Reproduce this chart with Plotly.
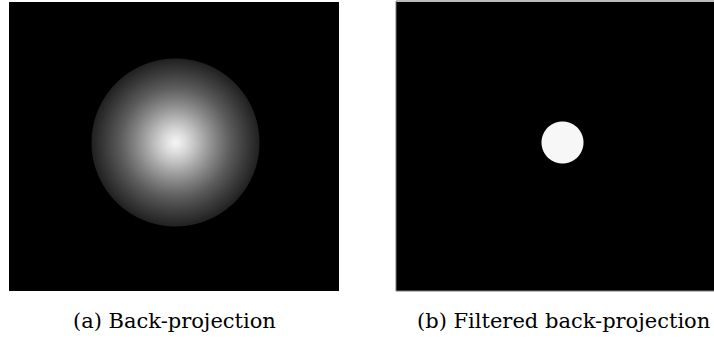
import numpy as np
import plotly.graph_objects as go

# Figure geometry (pixels)
W, H = 714, 339

# (a) back-projection: radial brightness profile (radius in px -> grey level 0-255)
bp_radius = [0, 10, 20, 30, 42, 55, 70, 84]
bp_level = [245, 222, 193, 162, 127, 92, 60, 32]
RECON_R = 84.0

# (b) filtered back-projection: recovered disk
DISK_R = 21.0
DISK_LEVEL = 247

CENTER = (166.0, 140.0)          # (column, row) of the object centre inside each panel

captions = ["(a) Back-projection", "(b) Filtered back-projection"]
caption_x = [174.5, 563.0]

# Panel boxes in page pixels: (left, top, right, bottom)
panel_a = (9, 2, 339, 291)
panel_b = (396, 2, 714, 291)


def grid(panel):
    w = panel[2] - panel[0]
    h = panel[3] - panel[1]
    cols = np.arange(w)
    rows = np.arange(h)
    cc, rr = np.meshgrid(cols, rows)
    return cols, rows, np.hypot(cc - CENTER[0], rr - CENTER[1])


# (a) shaded disk, black outside the reconstruction circle
cols_a, rows_a, r_a = grid(panel_a)
shade = np.interp(r_a, bp_radius, bp_level)
edge = np.clip(RECON_R + 0.5 - r_a, 0.0, 1.0)
z_a = shade * edge

# (b) uniform disk with an anti-aliased rim
cols_b, rows_b, r_b = grid(panel_b)
z_b = DISK_LEVEL * np.clip(DISK_R + 0.5 - r_b, 0.0, 1.0)

gray = [[0.0, "rgb(0,0,0)"], [1.0, "rgb(255,255,255)"]]

fig = go.Figure()
fig.add_trace(go.Heatmap(z=z_a, x=cols_a, y=rows_a, colorscale=gray, zmin=0, zmax=255,
                         showscale=False, hoverinfo="skip", xaxis="x", yaxis="y"))
fig.add_trace(go.Heatmap(z=z_b, x=cols_b, y=rows_b, colorscale=gray, zmin=0, zmax=255,
                         showscale=False, hoverinfo="skip", xaxis="x2", yaxis="y2"))


def dom_x(p):
    return [p[0] / W, min(p[2] / W, 1.0)]


def dom_y(p):
    return [(H - p[3]) / H, (H - p[1]) / H]


axis_common = dict(showgrid=False, zeroline=False, showticklabels=False, ticks="",
                   showline=False, fixedrange=True)

fig.update_layout(
    width=W, height=H,
    margin=dict(l=0, r=0, t=0, b=0),
    paper_bgcolor="white", plot_bgcolor="black",
    xaxis=dict(domain=dom_x(panel_a), range=[-0.5, len(cols_a) - 0.5], **axis_common),
    yaxis=dict(domain=dom_y(panel_a), range=[len(rows_a) - 0.5, -0.5], **axis_common),
    xaxis2=dict(domain=dom_x(panel_b), range=[-0.5, len(cols_b) - 0.5], anchor="y2",
                **axis_common),
    yaxis2=dict(domain=dom_y(panel_b), range=[len(rows_b) - 0.5, -0.5], anchor="x2",
                **axis_common),
    showlegend=False,
)

# thin grey frame around panel (b)
fig.add_shape(type="rect", xref="paper", yref="paper",
              x0=panel_b[0] / W, x1=(panel_b[2] + 12) / W,
              y0=(H - panel_b[3]) / H, y1=(H - panel_b[1] + 1) / H,
              line=dict(color="#7a7a7a", width=1), fillcolor="rgba(0,0,0,0)")

for text, cx in zip(captions, caption_x):
    fig.add_annotation(text=text, x=cx / W, y=(H - 321) / H, xref="paper", yref="paper",
                       xanchor="center", yanchor="middle", showarrow=False,
                       font=dict(family="DejaVu Serif", size=21, color="black"))

fig.write_html("out.html")
